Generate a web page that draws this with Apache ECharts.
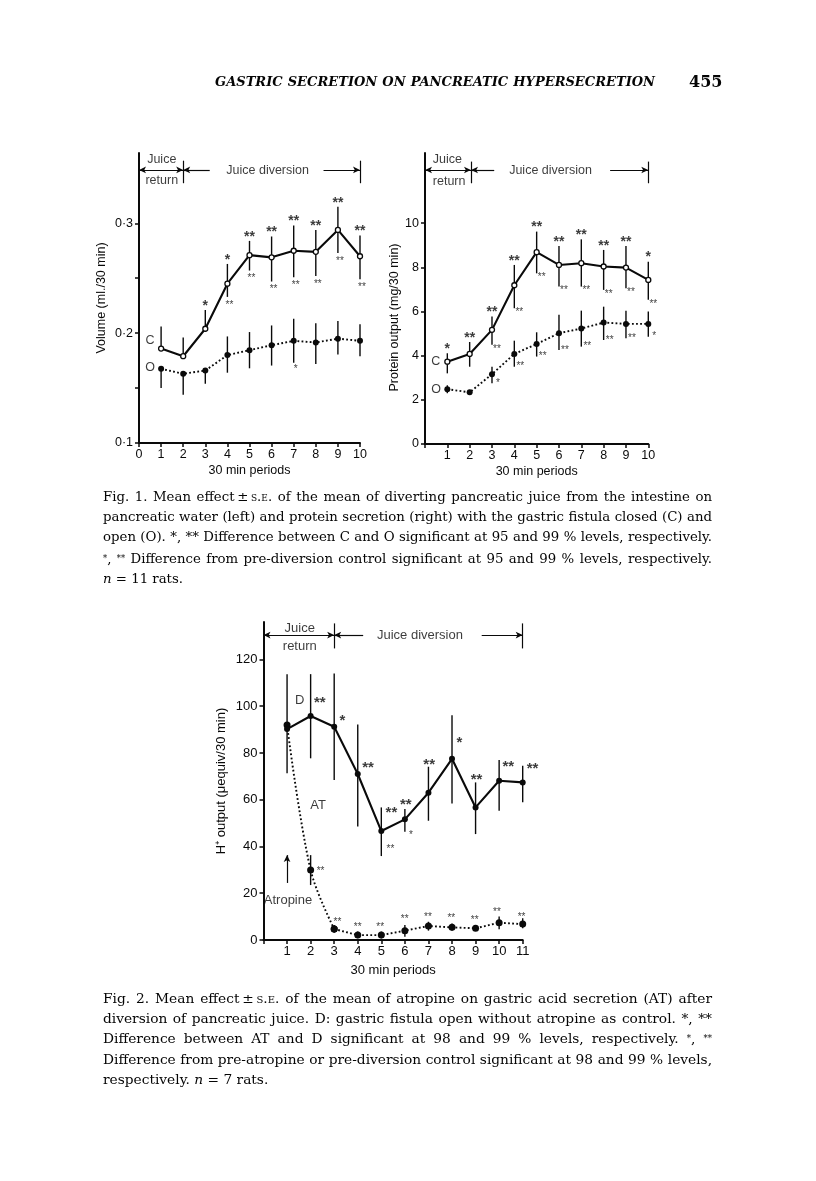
<!DOCTYPE html>
<html>
<head>
<meta charset="utf-8">
<script src="https://cdn.jsdelivr.net/npm/echarts@6/dist/echarts.min.js"></script>
<style>
  html, body { margin:0; padding:0; background:#fff; }
  #page { position:relative; width:816px; height:1181px; overflow:hidden; background:#fff; }
  #chart { position:absolute; left:0; top:0; width:816px; height:1181px; }
  .txt { position:absolute; color:#050505; font-family:"DejaVu Serif", "Liberation Serif", serif; }
  .ln { white-space:nowrap; line-height:20.2px; }
  .ln.j { text-align:justify; text-align-last:justify; white-space:normal; }
  .sc { font-variant:small-caps; }
  .sm { font-size:0.62em; vertical-align:0.25em; }
  #head { left:215px; top:72px; width:440px; font-weight:bold; font-style:italic; }
  #folio { left:689px; top:72px; font-weight:bold; font-size:16px; line-height:20px; }
</style>
</head>
<body>
<div id="page">
  <div id="chart"></div>
  <div id="head" class="txt"><div class="ln">GASTRIC SECRETION ON PANCREATIC HYPERSECRETION</div></div>
  <div id="folio" class="txt">455</div>
  <div id="cap1" class="txt" style="left:103px; top:487px; width:609px;">
    <div class="ln">Fig. 1. Mean effect&thinsp;±&thinsp;<span class="sc">s.e.</span> of the mean of diverting pancreatic juice from the intestine on</div>
    <div class="ln">pancreatic water (left) and protein secretion (right) with the gastric fistula closed (C) and</div>
    <div class="ln">open (O). *, ** Difference between C and O significant at 95 and 99 % levels, respectively.</div>
    <div class="ln"><span class="sm">*</span>, <span class="sm">**</span> Difference from pre-diversion control significant at 95 and 99 % levels, respectively.</div>
    <div class="ln last"><i>n</i> = 11 rats.</div>
  </div>
  <div id="cap2" class="txt" style="left:103px; top:988px; width:609px;">
    <div class="ln">Fig. 2. Mean effect&thinsp;±&thinsp;<span class="sc">s.e.</span> of the mean of atropine on gastric acid secretion (AT) after</div>
    <div class="ln">diversion of pancreatic juice. D: gastric fistula open without atropine as control. *, **</div>
    <div class="ln">Difference between AT and D significant at 98 and 99 % levels, respectively. <span class="sm">*</span>, <span class="sm">**</span></div>
    <div class="ln">Difference from pre-atropine or pre-diversion control significant at 98 and 99 % levels,</div>
    <div class="ln last">respectively. <i>n</i> = 7 rats.</div>
  </div>
</div>
<script>
// ---------------- DATA ----------------
const periods10 = [1, 2, 3, 4, 5, 6, 7, 8, 9, 10];
const periods11 = [1, 2, 3, 4, 5, 6, 7, 8, 9, 10, 11];

// Fig 1 left: volume (ml/30 min)
const volC     = [0.186, 0.179, 0.204, 0.245, 0.271, 0.269, 0.275, 0.274, 0.294, 0.270];
const volCHigh = [0.206, 0.196, 0.221, 0.263, 0.284, 0.288, 0.298, 0.294, 0.315, 0.289];
const volCLow  = [0.186, 0.179, 0.204, 0.233, 0.257, 0.247, 0.251, 0.252, 0.273, 0.249];
const volO     = [0.1675, 0.163, 0.166, 0.180, 0.1845, 0.189, 0.193, 0.1915, 0.195, 0.193];
const volOHigh = [0.1675, 0.163, 0.166, 0.197, 0.201, 0.207, 0.213, 0.209, 0.211, 0.208];
const volOLow  = [0.150, 0.144, 0.154, 0.164, 0.168, 0.1705, 0.173, 0.172, 0.1806, 0.179];
const volCSigAbove = ['', '', '*', '*', '**', '**', '**', '**', '**', '**'];
const volCSigBelow = ['', '', '', '**', '**', '**', '**', '**', '**', '**'];
const volOSigBelow = ['', '', '', '', '', '', '*', '', '', ''];
const volTickValues  = [0.1, 0.15, 0.2, 0.25, 0.3];
const volLabelValues = [0.1, 0.2, 0.3];

// Fig 1 right: protein output (mg/30 min)
const protC     = [3.73, 4.08, 5.17, 7.19, 8.69, 8.11, 8.19, 8.04, 7.99, 7.43];
const protCHigh = [4.11, 4.62, 5.77, 8.11, 9.62, 8.97, 9.27, 8.79, 8.97, 8.26];
const protCLow  = [3.20, 3.50, 4.49, 6.15, 7.73, 7.13, 7.13, 6.98, 7.05, 6.53];
const protO     = [2.48, 2.34, 3.16, 4.08, 4.53, 5.02, 5.23, 5.50, 5.44, 5.44];
const protOHigh = [2.66, 2.45, 3.50, 4.68, 5.06, 5.85, 6.04, 6.22, 6.03, 6.00];
const protOLow  = [2.30, 2.22, 2.75, 3.50, 3.96, 4.26, 4.41, 4.71, 4.79, 4.86];
const protCSigAbove = ['*', '**', '**', '**', '**', '**', '**', '**', '**', '*'];
const protCSigBelow = ['', '', '**', '**', '**', '**', '**', '**', '**', '**'];
const protOSigBelow = ['', '', '*', '**', '**', '**', '**', '**', '**', '*'];
const protTickValues = [0, 2, 4, 6, 8, 10];

// Fig 2: H+ output (uequiv/30 min)
const acidD      = [90.2, 95.8, 91.2, 71.0, 46.6, 51.6, 63.0, 77.5, 56.7, 68.1, 67.4];
const acidDHigh  = [113.7, 113.7, 114.0, 92.2, 56.7, 56.0, 74.1, 96.1, 67.4, 77.0, 74.5];
const acidDLow   = [71.3, 77.7, 68.4, 48.5, 35.9, 46.3, 51.0, 58.4, 45.3, 55.3, 58.9];
const acidAT     = [91.9, 29.9, 4.7, 2.1, 2.1, 4.0, 6.0, 5.4, 5.0, 7.4, 6.8];
const acidATHigh = [91.9, 36.3, 6.4, 3.6, 3.6, 6.4, 7.8, 7.1, 6.4, 10.0, 9.3];
const acidATLow  = [91.9, 23.5, 3.1, 0.7, 0.7, 1.4, 4.0, 4.0, 4.0, 4.6, 5.0];
const acidTickValues = [0, 20, 40, 60, 80, 100, 120];
// significance marks (text, anchor x, anchor y in data units)
const acidDSig   = [['**', 2.39, 102.6], ['*', 3.35, 94.8], ['**', 4.44, 74.8], ['**', 5.43, 55.6],
                    ['**', 6.04, 59.1], ['**', 7.03, 76.2], ['*', 8.31, 85.5], ['**', 9.04, 69.8],
                    ['**', 10.39, 75.5], ['**', 11.42, 74.4]];
const acidDSigSmall  = [['**', 5.39, 39.6], ['*', 6.26, 45.6]];
const acidATSigSmall = [['**', 2.42, 30.2], ['**', 3.14, 8.3], ['**', 4.0, 6.4], ['**', 4.95, 6.4],
                        ['**', 5.99, 9.7], ['**', 6.98, 10.7], ['**', 7.97, 10.0], ['**', 8.96, 9.3],
                        ['**', 9.91, 12.8], ['**', 10.95, 10.7]];

// ---------------- HELPERS ----------------
const INK = '#0a0a0a';
const SANS = '"Liberation Sans", Arial, Helvetica, sans-serif';
const pairs = (xs, ys) => xs.map((x, i) => [x, ys[i]]);

function errSeries(idx, xs, lo, hi) {
  return {
    type: 'custom', xAxisIndex: idx, yAxisIndex: idx, silent: true, z: 2,
    data: xs.map((x, i) => [x, lo[i], hi[i]]),
    encode: { x: 0, y: [1, 2] },
    renderItem: function (params, api) {
      const a = api.coord([api.value(0), api.value(1)]);
      const b = api.coord([api.value(0), api.value(2)]);
      return { type: 'line', shape: { x1: a[0], y1: a[1], x2: b[0], y2: b[1] },
               style: { stroke: INK, lineWidth: 1.4 } };
    }
  };
}

function sigSeries(idx, items, fontSize, bold, offset) {
  return {
    type: 'scatter', xAxisIndex: idx, yAxisIndex: idx, silent: true, clip: false, z: 5,
    symbolSize: 0,
    data: items.filter(d => d[0]).map(d => ({ name: d[0], value: [d[1], d[2]] })),
    label: { show: true, position: 'inside', formatter: '{b}', color: INK,
             fontFamily: SANS, fontSize: fontSize, fontWeight: bold ? 'bold' : 'normal',
             offset: offset }
  };
}
// stars anchored to error-bar ends
function barSig(xs, marks, ends) {
  return xs.map((x, i) => [marks[i], x, ends[i]]);
}

function textSeries(idx, items, fontSize) {
  return {
    type: 'scatter', xAxisIndex: idx, yAxisIndex: idx, silent: true, clip: false, z: 5,
    symbolSize: 0,
    data: items.map(d => ({ name: d[0], value: [d[1], d[2]] })),
    label: { show: true, position: 'inside', formatter: '{b}', color: INK,
             fontFamily: SANS, fontSize: fontSize }
  };
}

function headerLines(y, xSplit, xEnd, xA, xB, barTop, barBot) {
  return [
    [{ coord: [0, y], symbol: 'arrow' }, { coord: [xSplit, y], symbol: 'arrow' }],
    [{ coord: [xSplit, y], symbol: 'arrow' }, { coord: [xA, y], symbol: 'none' }],
    [{ coord: [xB, y], symbol: 'none' }, { coord: [xEnd, y], symbol: 'arrow' }],
    [{ coord: [xSplit, barTop], symbol: 'none' }, { coord: [xSplit, barBot], symbol: 'none' }],
    [{ coord: [xEnd, barTop], symbol: 'none' }, { coord: [xEnd, barBot], symbol: 'none' }]
  ];
}

function markSeries(idx, lines) {
  return {
    type: 'line', xAxisIndex: idx, yAxisIndex: idx, data: [], silent: true,
    markLine: { silent: true, animation: false, symbolSize: [5, 7], label: { show: false },
                lineStyle: { color: INK, width: 1.2, type: 'solid' },
                emphasis: { disabled: true }, data: lines }
  };
}

function xAxis(idx, max, showZero, fs, gap) {
  return {
    type: 'value', gridIndex: idx, min: 0, max: max, interval: 1,
    name: '30 min periods', nameLocation: 'middle', nameGap: gap,
    nameTextStyle: { fontFamily: SANS, fontSize: fs, color: INK },
    axisLine: { show: true, onZero: false, lineStyle: { color: INK, width: 2 } },
    axisTick: { show: true, length: 4, inside: false, lineStyle: { color: INK, width: 1.5 } },
    axisLabel: { fontFamily: SANS, fontSize: fs, color: INK, margin: 5,
                 formatter: v => (v === 0 && !showZero) ? '' : String(v) },
    splitLine: { show: false }
  };
}

function yAxis(idx, min, max, ticks, labels, name, gap, fs, fmt, pad) {
  return {
    type: 'value', gridIndex: idx, min: min, max: max,
    name: name, nameLocation: 'middle', nameGap: gap,
    nameTextStyle: { fontFamily: SANS, fontSize: fs, color: INK, padding: pad },
    axisLine: { show: true, onZero: false, lineStyle: { color: INK, width: 2 } },
    axisTick: { show: true, length: 4, customValues: ticks, lineStyle: { color: INK, width: 1.5 } },
    axisLabel: { fontFamily: SANS, fontSize: fs, color: INK, margin: 6, customValues: labels, formatter: fmt },
    splitLine: { show: false }
  };
}

const solid = { color: INK, width: 2.1 };
const dotted = { color: INK, width: 1.9, type: [1.8, 2.3] };
const openDot = { color: '#fff', borderColor: INK, borderWidth: 1.3 };
const fillDot = { color: INK, borderColor: INK, borderWidth: 0 };

const chart = echarts.init(document.getElementById('chart'), null, { renderer: 'canvas' });

const option = {
  animation: false,
  backgroundColor: 'transparent',
  grid: [
    { left: 139, top: 153, width: 221, height: 290 },
    { left: 425, top: 153, width: 223.3, height: 291 },
    { left: 263.5, top: 622, width: 259.2, height: 318 }
  ],
  xAxis: [
    xAxis(0, 10, true, 12.5, 21),
    xAxis(1, 10, false, 12.5, 21),
    xAxis(2, 11, false, 13, 24)
  ],
  yAxis: [
    yAxis(0, 0.1, 0.364, volTickValues, volLabelValues, 'Volume (ml./30 min)', 31, 12.5,
          v => v.toFixed(1).replace('.', '·'), [0, 0, 0, 0]),
    yAxis(1, 0, 13.18, protTickValues, protTickValues, 'Protein output (mg/30 min)', 22, 12.5,
          v => String(v), [0, 38, 0, 0]),
    yAxis(2, 0, 136, acidTickValues, acidTickValues, 'H⁺ output (μequiv/30 min)', 36, 13,
          v => String(v), [0, 0, 0, 0])
  ],
  series: [
    // ---- chart 1 ----
    errSeries(0, periods10, volCLow, volCHigh),
    errSeries(0, periods10, volOLow, volOHigh),
    { type: 'line', xAxisIndex: 0, yAxisIndex: 0, data: pairs(periods10, volO), z: 3,
      symbol: 'circle', symbolSize: 6, itemStyle: fillDot, lineStyle: dotted },
    { type: 'line', xAxisIndex: 0, yAxisIndex: 0, data: pairs(periods10, volC), z: 4,
      symbol: 'circle', symbolSize: 5, itemStyle: openDot, lineStyle: solid },
    sigSeries(0, barSig(periods10, volCSigAbove, volCHigh), 14, true, [0, -4]),
    sigSeries(0, barSig(periods10, volCSigBelow, volCLow), 10, false, [2, 8]),
    sigSeries(0, barSig(periods10, volOSigBelow, volOLow), 10, false, [2, 6]),
    textSeries(0, [['C', 0.5, 0.1936], ['O', 0.5, 0.169], ['Juice', 1.03, 0.3577],
                   ['return', 1.03, 0.3388], ['Juice diversion', 5.82, 0.348]], 12.5),
    markSeries(0, headerLines(0.3486, 2, 10, 3.2, 8.35, 0.357, 0.3365)),

    // ---- chart 2 ----
    errSeries(1, periods10, protCLow, protCHigh),
    errSeries(1, periods10, protOLow, protOHigh),
    { type: 'line', xAxisIndex: 1, yAxisIndex: 1, data: pairs(periods10, protO), z: 3,
      symbol: 'circle', symbolSize: 6, itemStyle: fillDot, lineStyle: dotted },
    { type: 'line', xAxisIndex: 1, yAxisIndex: 1, data: pairs(periods10, protC), z: 4,
      symbol: 'circle', symbolSize: 5, itemStyle: openDot, lineStyle: solid },
    sigSeries(1, barSig(periods10, protCSigAbove, protCHigh), 14, true, [0, -4]),
    sigSeries(1, barSig(periods10, protCSigBelow, protCLow), 10, false, [5, 4]),
    sigSeries(1, barSig(periods10, protOSigBelow, protOLow), 10, false, [6, 0]),
    textSeries(1, [['C', 0.48, 3.73], ['O', 0.5, 2.48], ['Juice', 1.0, 12.9],
                   ['return', 1.08, 11.88], ['Juice diversion', 5.62, 12.38]], 12.5),
    markSeries(1, headerLines(12.41, 2.06, 10, 3.1, 8.29, 12.79, 11.81)),

    // ---- chart 3 ----
    errSeries(2, periods11, acidDLow, acidDHigh),
    errSeries(2, periods11, acidATLow, acidATHigh),
    { type: 'line', xAxisIndex: 2, yAxisIndex: 2, data: pairs(periods11.slice(0, 3), acidAT.slice(0, 3)), z: 3,
      smooth: 0.35, symbol: 'circle', symbolSize: 7, itemStyle: fillDot, lineStyle: dotted },
    { type: 'line', xAxisIndex: 2, yAxisIndex: 2, data: pairs(periods11.slice(2), acidAT.slice(2)), z: 3,
      symbol: 'circle', symbolSize: 7, itemStyle: fillDot, lineStyle: dotted },
    { type: 'line', xAxisIndex: 2, yAxisIndex: 2, data: pairs(periods11, acidD), z: 4,
      symbol: 'circle', symbolSize: 6, itemStyle: fillDot, lineStyle: solid },
    sigSeries(2, acidDSig, 15, true, [0, 3]),
    sigSeries(2, acidDSigSmall, 10, false, [0, 2]),
    sigSeries(2, acidATSigSmall, 10, false, [0, 2]),
    textSeries(2, [['D', 1.54, 102.6], ['AT', 2.32, 57.7], ['Atropine', 1.04, 17.1],
                   ['Juice', 1.54, 133.3], ['return', 1.54, 125.7], ['Juice diversion', 6.64, 130.4]], 13),
    markSeries(2, headerLines(130.4, 3, 11, 4.23, 9.26, 135.4, 124.7).concat([
      [{ coord: [1, 24.4], symbol: 'none' }, { coord: [1, 36.3], symbol: 'arrow' }]
    ]))
  ]
};
chart.setOption(option);

// ---------------- text fitting (captions justified like print) ----------------
function fitBlock(id, width, baseSize, justifyLast) {
  const block = document.getElementById(id);
  block.style.fontSize = baseSize + 'px';
  const lines = Array.from(block.querySelectorAll('.ln'));
  let minScale = 1;
  lines.forEach(l => {
    if (l.classList.contains('last')) return;
    const r = document.createRange(); r.selectNodeContents(l);
    const w = r.getBoundingClientRect().width;
    minScale = Math.min(minScale, (width - 2) / w);
  });
  block.style.fontSize = (baseSize * minScale).toFixed(2) + 'px';
  lines.forEach(l => { if (!l.classList.contains('last') || justifyLast) l.classList.add('j'); });
}
fitBlock('cap1', 609, 15, false);
fitBlock('cap2', 609, 15, false);
fitBlock('head', 440, 17, true);
</script>
</body>
</html>
